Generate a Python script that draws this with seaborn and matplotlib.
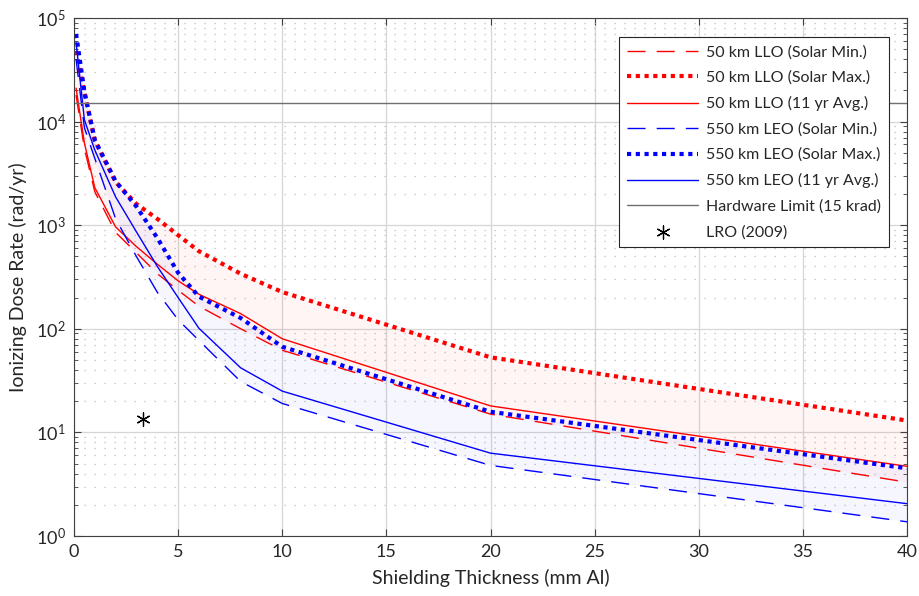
import matplotlib
matplotlib.use("Agg")
import matplotlib.pyplot as plt
import seaborn as sns
import numpy as np
import pandas as pd
from matplotlib.ticker import LogLocator, NullFormatter

# ---- data ----
thickness = [0.1, 0.5, 1, 2, 3, 4, 5, 6, 8, 10, 20, 40]
llo_min = [18000, 5500, 2100, 850, 540, 340, 235, 165, 100, 62, 15, 3.3]
llo_max = [48000, 19000, 6600, 2600, 1600, 1150, 800, 560, 340, 226, 53, 13]
llo_avg = [21000, 6200, 2300, 960, 620, 420, 290, 215, 140, 80, 18, 4.7]
leo_min = [40000, 8700, 4400, 1150, 497, 225, 122, 77, 31, 19, 4.8, 1.37]
leo_max = [70000, 19500, 6600, 2650, 1510, 752, 347, 204, 127, 67, 15.8, 4.5]
leo_avg = [58000, 10400, 5300, 1870, 860, 400, 200, 101, 42, 25, 6.3, 2.05]
hw_limit = 15000
lro_x = [3.3]
lro_y = [13.5]

series_names = ["50 km LLO (Solar Min.)", "50 km LLO (Solar Max.)", "50 km LLO (11 yr Avg.)",
                "550 km LEO (Solar Min.)", "550 km LEO (Solar Max.)", "550 km LEO (11 yr Avg.)"]
xticks = [0, 5, 10, 15, 20, 25, 30, 35, 40]

sns.set_theme(style="white")
plt.rcParams['font.family'] = ['Lato', 'DejaVu Sans']

fig = plt.figure(figsize=(9.19, 5.96), dpi=100)
ax = fig.add_axes([0.0805, 0.1007, 0.9065, 0.8693])

# fills
ax.fill_between(thickness, llo_min, llo_max, color=(1.0, 0.0, 0.0), alpha=0.04, lw=0)
ax.fill_between(thickness, leo_min, leo_max, color=(0.0, 0.0, 1.0), alpha=0.035, lw=0)

styles = [
    (llo_min, "red", (0, (13, 8)), 1.0),
    (llo_max, "red", (0, (1, 1.1)), 3.0),
    (llo_avg, "red", "-", 1.0),
    (leo_min, "blue", (0, (13, 8)), 1.0),
    (leo_max, "blue", (0, (1, 1.1)), 3.0),
    (leo_avg, "blue", "-", 1.0),
]
for (vals, col, ls, lw), name in zip(styles, series_names):
    d = pd.DataFrame({"x": thickness, "y": vals})
    sns.lineplot(data=d, x="x", y="y", ax=ax, color=col, linestyle=ls, linewidth=lw,
                 label=name, sort=False, legend=False)

ax.axhline(hw_limit, color="#707070", lw=1.0, label="Hardware Limit (15 krad)")
sns.scatterplot(x=lro_x, y=lro_y, ax=ax, marker=(6, 2, 0), s=90, color="black",
                linewidth=0.9, edgecolor="black", label="LRO (2009)", legend=False, zorder=5)

ax.set_yscale("log")
ax.set_xlim(0, 40)
ax.set_ylim(1, 1e5)
ax.set_xticks(xticks)
ax.set_xticklabels([str(t) for t in xticks])
ax.yaxis.set_major_locator(LogLocator(base=10, numticks=10))
ax.yaxis.set_minor_locator(LogLocator(base=10, subs=np.arange(2, 10), numticks=20))
ax.yaxis.set_minor_formatter(NullFormatter())

ax.grid(True, which="major", color="#d6d6d6", lw=0.9, ls="-")
ax.yaxis.grid(True, which="minor", color="#bdbdbd", lw=0.9, ls=(0, (1, 7)))
ax.set_axisbelow(True)

ax.tick_params(axis="both", which="major", direction="in", length=5, width=0.8,
               color="#404040", labelsize=13, labelcolor="#262626", top=True, right=True,
               bottom=True, left=True, pad=6)
ax.tick_params(axis="y", which="minor", direction="in", length=3, width=0.6,
               color="#404040", left=True, right=True)
for s in ax.spines.values():
    s.set_color("#404040")
    s.set_linewidth(0.8)

ax.set_xlabel("Shielding Thickness (mm Al)", fontsize=14, color="#262626", labelpad=6)
ax.set_ylabel("Ionizing Dose Rate (rad/yr)", fontsize=14, color="#262626", labelpad=6)

handles, labels = ax.get_legend_handles_labels()
leg = ax.legend(handles, labels, loc="upper right", bbox_to_anchor=(0.978, 0.963),
                borderaxespad=0.0,
                fontsize=11.5, frameon=True, fancybox=False, framealpha=1,
                edgecolor="#262626", borderpad=0.5, labelspacing=0.7, handlelength=4.4,
                handletextpad=0.5)
leg.get_frame().set_linewidth(0.8)

fig.savefig("out.png", dpi=100)
